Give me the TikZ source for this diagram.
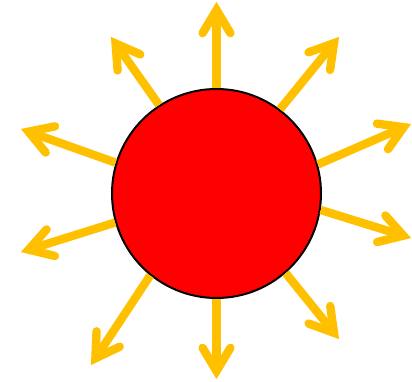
\documentclass[tikz,border=0pt]{standalone}
\usetikzlibrary{calc}
\definecolor{sunred}{RGB}{255,0,0}
\definecolor{rayyellow}{RGB}{255,192,0}
\begin{document}
\begin{tikzpicture}[x=1pt,y=-1pt,
  ray/.style={draw=rayyellow, line width=8.4pt, line cap=butt},
  rayhead/.style={draw=rayyellow, line width=8.4pt, line cap=round, line join=miter},
  sunbody/.style={circle, fill=sunred, draw=black, line width=2pt, minimum size=209pt, inner sep=0pt}]
\useasboundingbox (0,0) rectangle (412,382);
\node[sunbody] (sun) at (216.5,193.5) {};
\coordinate (t1) at (216.5,2);
\coordinate (t2) at (111,37);
\coordinate (t3) at (339,37);
\coordinate (t4) at (411,124);
\coordinate (t5) at (411,238);
\coordinate (t6) at (339,339);
\coordinate (t7) at (216.5,379);
\coordinate (t8) at (91,365);
\coordinate (t9) at (21,252);
\coordinate (t10) at (21,129);
\foreach \a/\t in {90/t1,123.5/t2,53.6/t3,16.6/t4,-9.7/t5,-49.3/t6,-90/t7,231.4/t8,196.4/t9,163.6/t10}{
  \coordinate (g) at ($(\t)!8pt!(sun.\a)$);
  \draw[ray] (sun.\a) -- (g);
  \draw[rayhead] ($(g)!27pt!31:(sun.\a)$) -- (g) -- ($(g)!27pt!-31:(sun.\a)$);
}
\end{tikzpicture}
\end{document}
